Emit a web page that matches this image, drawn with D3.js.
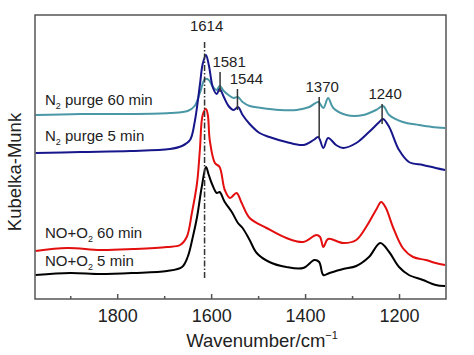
<!DOCTYPE html>
<html><head><meta charset="utf-8">
<script src="https://cdn.jsdelivr.net/npm/d3@7"></script>
<style>
html,body{margin:0;padding:0;background:#fff;}
text{font-family:"Liberation Sans",Arial,sans-serif;}
</style></head>
<body><svg id="c" width="474" height="355"></svg>
<script>
// wavenumber (cm^-1), Kubelka-Munk intensity (a.u., offset spectra)
const n2Purge60 = [[1974,184],[1878,185],[1772,185],[1688,186],[1650,188],[1635,193],[1624,206],[1613,220],[1605,219],[1596,212],[1588,209],[1582,213],[1573,208],[1563,204],[1552,201],[1543,202],[1533,197],[1518,193],[1493,191],[1454,189],[1418,189],[1391,192],[1372,197],[1361,191],[1351,201],[1340,191],[1312,184],[1276,184],[1249,189],[1234,193],[1221,184],[1192,177],[1158,174],[1130,172],[1102,171]];
const n2Purge5 = [[1974,146],[1878,147],[1772,148],[1688,150],[1662,153],[1645,159],[1635,177],[1624,214],[1618,235],[1611,244],[1605,234],[1596,211],[1588,205],[1582,210],[1573,202],[1563,193],[1552,189],[1543,192],[1533,184],[1518,175],[1497,166],[1476,162],[1440,157],[1404,154],[1382,159],[1372,162],[1361,151],[1351,161],[1334,154],[1319,151],[1291,156],[1264,167],[1242,177],[1234,180],[1221,172],[1200,149],[1179,137],[1149,134],[1122,131],[1102,129]];
const noO260 = [[1974,48],[1906,51],[1836,49],[1766,50],[1694,52],[1666,54],[1652,62],[1641,86],[1630,116],[1624,149],[1618,184],[1611,190],[1607,184],[1603,159],[1592,136],[1582,132],[1571,109],[1560,101],[1546,106],[1535,96],[1518,81],[1482,71],[1440,61],[1404,57],[1376,64],[1368,62],[1361,52],[1351,60],[1319,56],[1291,59],[1270,72],[1249,89],[1238,97],[1228,91],[1213,72],[1192,51],[1170,42],[1143,39],[1122,36],[1102,34]];
const noO25 = [[1974,24],[1900,26],[1836,25],[1766,26],[1694,28],[1662,32],[1650,42],[1639,62],[1630,82],[1620,112],[1611,132],[1605,124],[1599,116],[1588,106],[1582,107],[1571,97],[1556,87],[1543,76],[1533,71],[1518,59],[1503,46],[1476,37],[1440,32],[1404,31],[1380,39],[1370,37],[1361,24],[1348,26],[1319,30],[1291,33],[1264,42],[1240,56],[1221,47],[1200,32],[1179,24],[1149,19],[1122,14],[1102,13]];

const seriesNames = ["N2 purge 60 min","N2 purge 5 min","NO+O2 60 min","NO+O2 5 min"];
const seriesColors = ["#4a97a6","#17168a","#e30f0f","#000000"];
const majorTicks = [1800,1600,1400,1200];
const minorTicks = [1900,1700,1500,1300];
// peak annotations: label, position, line top/bottom intensities
const peakLabels = ["1581","1544","1370","1240"];
const peakPos = [1581,1544,1370,1236];
const peakTop = [227,210,202,195];
const peakBot = [207,189,161,175];
const mainPeak = 1614;

const svg = d3.select("#c");
const L=35,R=446,T=15,B=299;
const x = d3.scaleLinear().domain([1975,1100]).range([L,R]);
const y = d3.scaleLinear().domain([0,284]).range([B,T]);

// lines
const line = d3.line().x(d=>x(d[0])).y(d=>y(d[1])).curve(d3.curveCatmullRom.alpha(0.5));
[n2Purge60,n2Purge5,noO260,noO25].forEach((s,i)=>{
  svg.append("path").attr("d",line(s)).attr("fill","none")
    .attr("stroke",seriesColors[i]).attr("stroke-width",2).attr("stroke-linejoin","round");
});

// dash-dot line at 1614
svg.append("line").attr("x1",x(mainPeak)).attr("x2",x(mainPeak))
  .attr("y1",y(257)).attr("y2",y(20))
  .attr("stroke","#333").attr("stroke-width",1.5).attr("stroke-dasharray","6,2,1.5,2");
svg.append("text").attr("x",x(mainPeak)+2).attr("y",y(268)).attr("text-anchor","middle")
  .attr("font-size",15).attr("fill","#222").text("1614");

peakLabels.forEach((lab,i)=>{
  svg.append("line").attr("x1",x(peakPos[i])).attr("x2",x(peakPos[i]))
    .attr("y1",y(peakTop[i])).attr("y2",y(peakBot[i])).attr("stroke","#333").attr("stroke-width",1.5);
  svg.append("text").attr("x",x(peakPos[i])+(i<2?9:3)).attr("y",y(peakTop[i])-5)
    .attr("text-anchor","middle").attr("font-size",15).attr("fill","#222").text(lab);
});

// frame
svg.append("rect").attr("x",L).attr("y",T).attr("width",R-L).attr("height",B-T)
  .attr("fill","none").attr("stroke","#555").attr("stroke-width",1.5);

// x axis
const ax = d3.axisBottom(x).tickValues(majorTicks).tickSize(-5).tickPadding(10).tickFormat(d3.format("d"));
const g = svg.append("g").attr("transform",`translate(0,${B})`).call(ax);
g.select(".domain").remove();
g.selectAll(".tick line").attr("stroke","#555").attr("stroke-width",1.5);
g.selectAll(".tick text").attr("font-size",18).attr("fill","#222")
  .attr("font-family","Liberation Sans, Arial, sans-serif");
const gm = svg.append("g").attr("transform",`translate(0,${B})`)
  .call(d3.axisBottom(x).tickValues(minorTicks).tickSize(-3).tickFormat(""));
gm.select(".domain").remove();
gm.selectAll(".tick line").attr("stroke","#555").attr("stroke-width",1.5);

// axis labels
const xl = svg.append("text").attr("x",262).attr("y",347).attr("text-anchor","middle")
  .attr("font-size",18.5).attr("fill","#222");
xl.append("tspan").text("Wavenumber/cm");
xl.append("tspan").attr("font-size",11).attr("dy",-8).text("\u22121");
svg.append("text").attr("transform","translate(21,172) rotate(-90)").attr("text-anchor","middle")
  .attr("font-size",18.5).attr("fill","#222").text("Kubelka-Munk");

// series labels
const labY = [105,141,238,266];
seriesNames.forEach((nm,i)=>{
  const t = svg.append("text").attr("x",45).attr("y",labY[i]).attr("font-size",15).attr("fill","#222");
  const m = nm.match(/^(N|NO\+O)2(.*)$/);
  t.append("tspan").text(m[1]);
  t.append("tspan").attr("font-size",9).attr("dy",4).text("2");
  t.append("tspan").attr("dy",-4).text(m[2]);
});
</script></body></html>
